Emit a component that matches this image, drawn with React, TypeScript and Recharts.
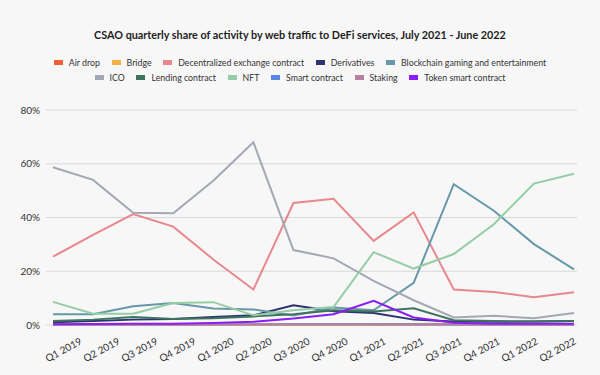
import React from "react";
import { LineChart, Line, XAxis, YAxis, CartesianGrid, Legend } from "recharts";

const quarters = [
    "Q1 2019", "Q2 2019", "Q3 2019", "Q4 2019", "Q1 2020", "Q2 2020", "Q3 2020",
    "Q4 2020", "Q1 2021", "Q2 2021", "Q3 2021", "Q4 2021", "Q1 2022", "Q2 2022",
];

// share of activity, in %
const airDrop = [0.1, 0.1, 0.1, 0.1, 0.1, 0.1, 0.1, 0.1, 0.1, 0.2, 0.3, 0.2, 0.1, 0.1];
const bridge = [0, 0, 0, 0, 0, 0, 0, 0, 0.1, 0.4, 0.5, 0.4, 0.3, 0.3];
const dex = [25.4, 33.5, 41.3, 36.6, 24.4, 13.2, 45.4, 47, 31.3, 41.9, 13.2, 12.3, 10.3, 12.2];
const derivatives = [1, 1.5, 2, 2.2, 3, 3.6, 7.3, 5.1, 4.5, 2, 1.3, 1.2, 1.3, 1.5];
const gaming = [4, 4, 7, 8.2, 6.1, 5.8, 3.5, 6.5, 5.5, 15.7, 52.4, 42.5, 30.1, 20.7];
const ico = [58.7, 54, 41.8, 41.6, 53.7, 68, 27.9, 24.8, 16.4, 9.2, 2.8, 3.4, 2.5, 4.5];
const lending = [1.5, 2, 3, 2.2, 2.5, 3.2, 4, 5.5, 5, 6.2, 1.8, 1.5, 1.3, 1.5];
const nft = [8.6, 4.2, 4.2, 8.2, 8.5, 3.6, 5.5, 6.7, 27.1, 21, 26.4, 37.5, 52.6, 56.3];
const smartContract = [0.2, 0.2, 0.2, 0.2, 0.2, 0.3, 0.3, 0.3, 0.3, 0.3, 0.2, 0.2, 0.2, 0.2];
const staking = [0.2, 0.2, 0.2, 0.2, 0.2, 0.2, 0.2, 0.2, 0.2, 0.2, 0.2, 0.2, 0.2, 0.2];
const tokenContract = [0.3, 0.4, 0.5, 0.5, 0.7, 1.2, 2.4, 4, 9, 2.8, 0.8, 0.5, 0.5, 0.5];

const yTicks = [0, 20, 40, 60, 80];

const SERIES = [
    { key: "airDrop", name: "Air drop", color: "#ee6134", values: airDrop },
    { key: "bridge", name: "Bridge", color: "#f4b042", values: bridge },
    { key: "dex", name: "Decentralized exchange contract", color: "#e8888c", values: dex },
    { key: "derivatives", name: "Derivatives", color: "#2b3470", values: derivatives },
    { key: "gaming", name: "Blockchain gaming and entertainment", color: "#6698a7", values: gaming },
    { key: "ico", name: "ICO", color: "#a3a8b4", values: ico },
    { key: "lending", name: "Lending contract", color: "#3e735e", values: lending },
    { key: "nft", name: "NFT", color: "#94cda6", values: nft },
    { key: "smart", name: "Smart contract", color: "#5b86e5", values: smartContract },
    { key: "staking", name: "Staking", color: "#b8809f", values: staking },
    { key: "token", name: "Token smart contract", color: "#8a1df5", values: tokenContract },
];

const data = quarters.map((q, i) => {
    const row: Record<string, any> = { quarter: q };
    SERIES.forEach((s) => {
        row[s.key] = s.values[i];
    });
    return row;
});

const FONT = "Lato, 'DejaVu Sans', sans-serif";

const LegendRows = () => {
    const rows = [SERIES.slice(0, 5), SERIES.slice(5)];
    return (
        <div style={{ fontFamily: FONT, fontSize: 8.8, color: "#333" }}>
            {rows.map((row, ri) => (
                <div key={ri} style={{ display: "flex", justifyContent: "center", height: 15, alignItems: "center" }}>
                    {row.map((s) => (
                        <div key={s.key} style={{ display: "flex", alignItems: "center", margin: "0 5.8px" }}>
                            <span style={{ width: 9, height: 5, background: s.color, marginRight: 6 }} />
                            <span>{s.name}</span>
                        </div>
                    ))}
                </div>
            ))}
        </div>
    );
};

const QuarterTick = (props: any) => {
    const { x, y, payload } = props;
    return (
        <g transform={`translate(${x},${y})`}>
            <text transform="rotate(-28)" textAnchor="end" dy={12} fill="#333" fontSize={10} fontFamily={FONT}>
                {payload.value}
            </text>
        </g>
    );
};

export default function App() {
    return (
        <div style={{ position: "relative", width: 600, height: 375, background: "#f7f7f7" }}>
            <style>{"body{margin:0}"}</style>
            <div
                style={{
                    position: "absolute",
                    top: 28,
                    width: 600,
                    textAlign: "center",
                    fontFamily: FONT,
                    fontWeight: 700,
                    fontSize: 10.8,
                    color: "#1e1e1e",
                }}
            >
                CSAO quarterly share of activity by web traffic to DeFi services, July 2021 - June 2022
            </div>
            <LineChart width={600} height={375} data={data} margin={{ top: 110, right: 23, left: 0, bottom: 0 }}>
                <CartesianGrid xAxisId="main" vertical={false} stroke="#d9d9d9" />
                <XAxis xAxisId="main" dataKey="quarter" hide padding={{ left: 7, right: 3 }} />
                <XAxis
                    xAxisId="labels"
                    dataKey="quarter"
                    height={50}
                    padding={{ left: 31, right: 6 }}
                    axisLine={false}
                    tickLine={false}
                    interval={0}
                    tick={<QuarterTick />}
                />
                <YAxis
                    width={46}
                    domain={[0, 80]}
                    ticks={yTicks}
                    tickFormatter={(v) => `${v}%`}
                    axisLine={false}
                    tickLine={false}
                    tickMargin={0}
                    tick={{ fill: "#333", fontSize: 10, fontFamily: FONT }}
                />
                <Legend
                    verticalAlign="middle"
                    align="center"
                    content={<LegendRows />}
                    wrapperStyle={{ top: 55, left: 0, width: 600 }}
                />
                {SERIES.map((s) => (
                    <Line
                        key={s.key}
                        xAxisId="main"
                        dataKey={s.key}
                        name={s.name}
                        stroke={s.color}
                        strokeWidth={2}
                        dot={false}
                        type="linear"
                        isAnimationActive={false}
                    />
                ))}
            </LineChart>
        </div>
    );
}
